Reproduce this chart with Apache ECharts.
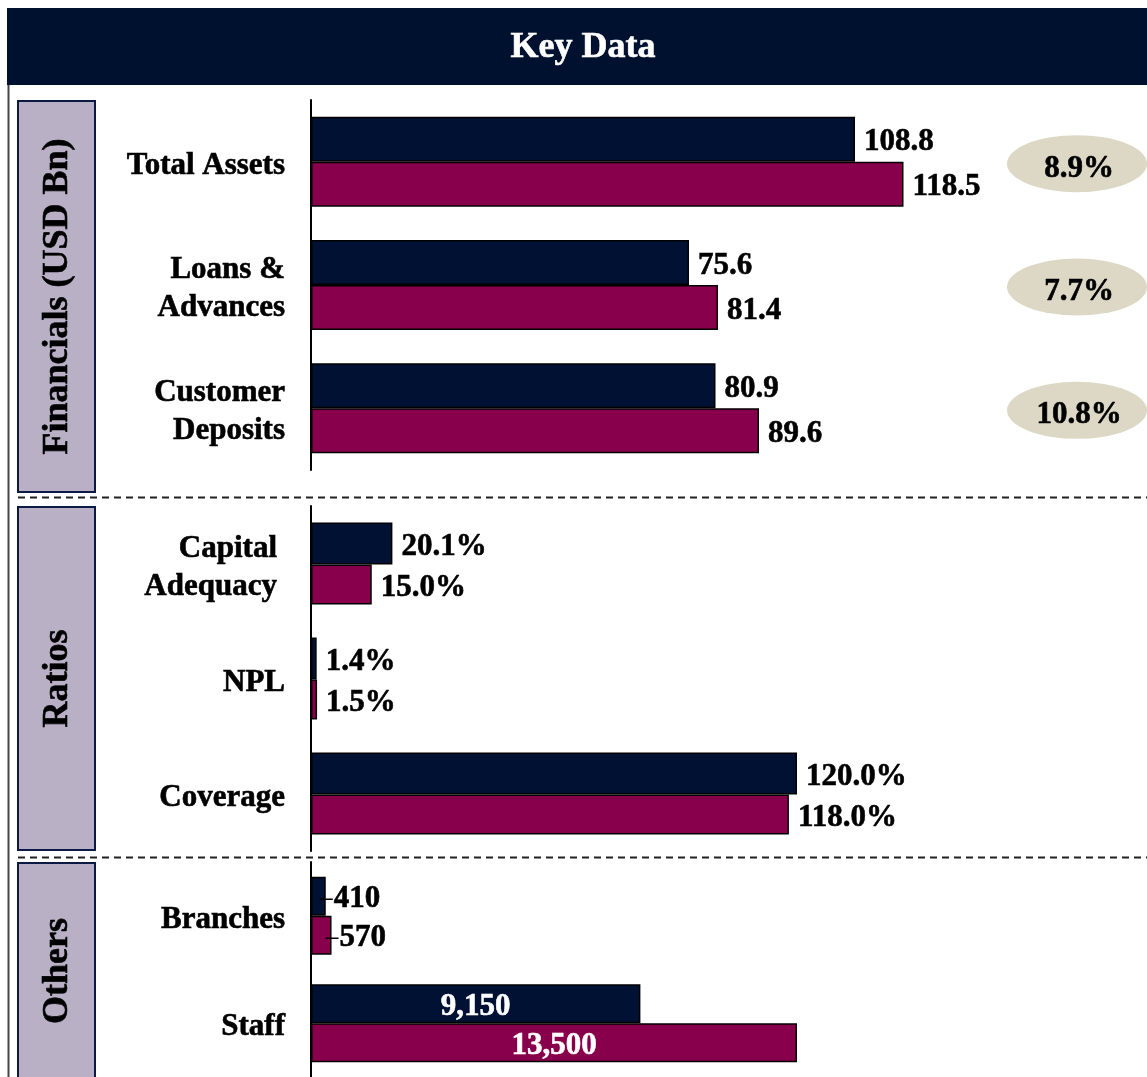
<!DOCTYPE html>
<html>
<head>
<meta charset="utf-8">
<title>Key Data</title>
<script src="https://cdn.jsdelivr.net/npm/echarts@6/dist/echarts.min.js"></script>
<style>
  html, body { margin: 0; padding: 0; background: #ffffff; }
  #chart { width: 1147px; height: 1077px; }
</style>
</head>
<body>
<div id="chart"></div>
<script>
// ---- data ----
const finCategories = ['Total Assets', 'Loans &\nAdvances', 'Customer\nDeposits'];
const finPrev = [108.8, 75.6, 80.9];
const finCurr = [118.5, 81.4, 89.6];
const finGrowth = [8.9, 7.7, 10.8];

const ratioCategories = ['Capital\nAdequacy', 'NPL', 'Coverage'];
const ratioPrev = [20.1, 1.4, 120.0];
const ratioCurr = [15.0, 1.5, 118.0];

const otherCategories = ['Branches', 'Staff'];
const otherPrev = [410, 9150];
const otherCurr = [570, 13500];

const panelTitles = ['Financials (USD Bn)', 'Ratios', 'Others'];

// ---- styling ----
const NAVY = '#001133';
const BERRY = '#88004b';
const SERIF = '"Liberation Serif", "Times New Roman", "DejaVu Serif", serif';
const FS = 31;
// a hairline outline of the same colour gives the heavy bold look
const heavy = { textBorderColor: '#000', textBorderWidth: 0.6 };

const chart = echarts.init(document.getElementById('chart'), null, { renderer: 'canvas' });

function catAxis(gridIndex, data) {
  return {
    type: 'category', gridIndex: gridIndex, data: data, inverse: true,
    axisLine: { show: true, lineStyle: { color: '#000', width: 2 } },
    axisTick: { show: false },
    axisLabel: Object.assign({
      margin: 26, color: '#000', fontFamily: SERIF, fontWeight: 'bold',
      fontSize: FS, lineHeight: 38, padding: [8, 0, 0, 0],
      formatter: function (v) {
        if (v === 'Capital\nAdequacy') return '{s|Capital}\n{s|Adequacy}';
        return v;
      },
      rich: { s: Object.assign({ fontFamily: SERIF, fontWeight: 'bold', fontSize: FS, color: '#000', lineHeight: 38, padding: [0, 8, 0, 0] }, heavy) }
    }, heavy),
    splitLine: { show: false }
  };
}

function valAxis(gridIndex, max) {
  return { type: 'value', gridIndex: gridIndex, min: 0, max: max, show: false, splitLine: { show: false } };
}

function barSeries(idx, data, color, width, fmt) {
  return {
    type: 'bar', xAxisIndex: idx, yAxisIndex: idx, data: data,
    barWidth: width, barGap: '0%',
    itemStyle: { color: color, borderColor: '#000', borderWidth: 1.5 },
    label: Object.assign({
      show: true, position: 'right', distance: 9, color: '#000', offset: [0, 3],
      fontFamily: SERIF, fontWeight: 'bold', fontSize: FS,
      formatter: function (p) { return fmt(p.value); }
    }, heavy),
    silent: true, animation: false
  };
}

const oneDec = v => v.toFixed(1);
const pct = v => v.toFixed(1) + '%';
const thousands = v => v.toLocaleString('en-US');

// staff bars carry centred white labels; branch bars carry leader-line labels
function otherSeries(data, color) {
  const items = data.map(function (v, i) {
    if (i === 1) {
      return { value: v, label: { position: 'inside', color: '#fff', distance: 0,
        textBorderColor: '#fff', textBorderWidth: 0.6, formatter: thousands(v) } };
    }
    return { value: v };
  });
  return {
    type: 'bar', xAxisIndex: 2, yAxisIndex: 2, data: items,
    barWidth: 39, barGap: '0%',
    itemStyle: { color: color, borderColor: '#000', borderWidth: 1.5 },
    label: Object.assign({
      show: true, position: 'right', distance: -6, color: '#000', offset: [0, 3],
      fontFamily: SERIF, fontWeight: 'bold', fontSize: FS,
      formatter: function (p) {
        return p.dataIndex === 0 ? '{l|}{v|' + thousands(p.value) + '}' : thousands(p.value);
      },
      rich: {
        l: { width: 13, height: 1.5, backgroundColor: '#000' },
        v: Object.assign({ fontFamily: SERIF, fontWeight: 'bold', fontSize: FS, color: '#000', padding: [0, 0, 0, 1] }, heavy)
      }
    }, heavy),
    silent: true, animation: false
  };
}

const graphics = [
  // header band
  { type: 'rect', shape: { x: 7, y: 8, width: 1140, height: 77 }, style: { fill: '#00112f' }, z: 0 },
  { type: 'text', x: 583, y: 48, style: { text: 'Key Data', fill: '#fff', stroke: '#fff', lineWidth: 0.6, font: 'bold 36px ' + SERIF, textAlign: 'center', textVerticalAlign: 'middle' } },
  // outer frame on the left
  { type: 'line', shape: { x1: 8.5, y1: 85, x2: 8.5, y2: 1077 }, style: { stroke: '#444', lineWidth: 2 } },
  // panel separators
  { type: 'line', shape: { x1: 18, y1: 497.5, x2: 1147, y2: 497.5 }, style: { stroke: '#222', lineWidth: 2, lineDash: [7, 5] } },
  { type: 'line', shape: { x1: 18, y1: 857.5, x2: 1147, y2: 857.5 }, style: { stroke: '#222', lineWidth: 2, lineDash: [7, 5] } }
];

const boxes = [[101, 391], [507, 343], [863, 230]];
boxes.forEach(function (b, i) {
  graphics.push({ type: 'rect', shape: { x: 18, y: b[0], width: 77, height: b[1] },
    style: { fill: '#b9b0c6', stroke: '#0b1a45', lineWidth: 2 } });
  const cy = i === 2 ? 971 : b[0] + b[1] / 2;
  graphics.push({ type: 'text', x: 58, y: cy, rotation: Math.PI / 2,
    style: { text: panelTitles[i], fill: '#000', stroke: '#000', lineWidth: 0.6, font: 'bold 36px ' + SERIF, textAlign: 'center', textVerticalAlign: 'middle' } });
});

const option = {
  backgroundColor: '#ffffff',
  animation: false,
  grid: [
    { left: 311, top: 100, width: 800, height: 370 },
    { left: 311, top: 506, width: 810, height: 345 },
    { left: 311, top: 862, width: 810, height: 215 },
    { left: 1007, top: 100, width: 140, height: 370 }
  ],
  xAxis: [
    valAxis(0, 160), valAxis(1, 200), valAxis(2, 22500),
    { type: 'value', gridIndex: 3, min: -1, max: 1, show: false }
  ],
  yAxis: [
    catAxis(0, finCategories), catAxis(1, ratioCategories), catAxis(2, otherCategories),
    { type: 'category', gridIndex: 3, data: finCategories, inverse: true, show: false }
  ],
  series: [
    barSeries(0, finPrev, NAVY, 45, oneDec),
    barSeries(0, finCurr, BERRY, 45, oneDec),
    barSeries(1, ratioPrev, NAVY, 42, pct),
    barSeries(1, ratioCurr, BERRY, 40, pct),
    otherSeries(otherPrev, NAVY),
    otherSeries(otherCurr, BERRY),
    {
      type: 'scatter', xAxisIndex: 3, yAxisIndex: 3,
      data: finGrowth.map(function (g, i) { return [0, i, g]; }),
      symbol: 'circle', symbolSize: [140, 57], symbolOffset: [0, 2],
      itemStyle: { color: '#ddd8c5', opacity: 1 },
      label: Object.assign({ show: true, position: 'inside', color: '#000', fontFamily: SERIF, fontWeight: 'bold', fontSize: FS,
        offset: [2, 5],
        formatter: function (p) { return p.value[2].toFixed(1) + '%'; } }, heavy),
      silent: true, animation: false
    }
  ],
  graphic: graphics
};

chart.setOption(option);
</script>
</body>
</html>
